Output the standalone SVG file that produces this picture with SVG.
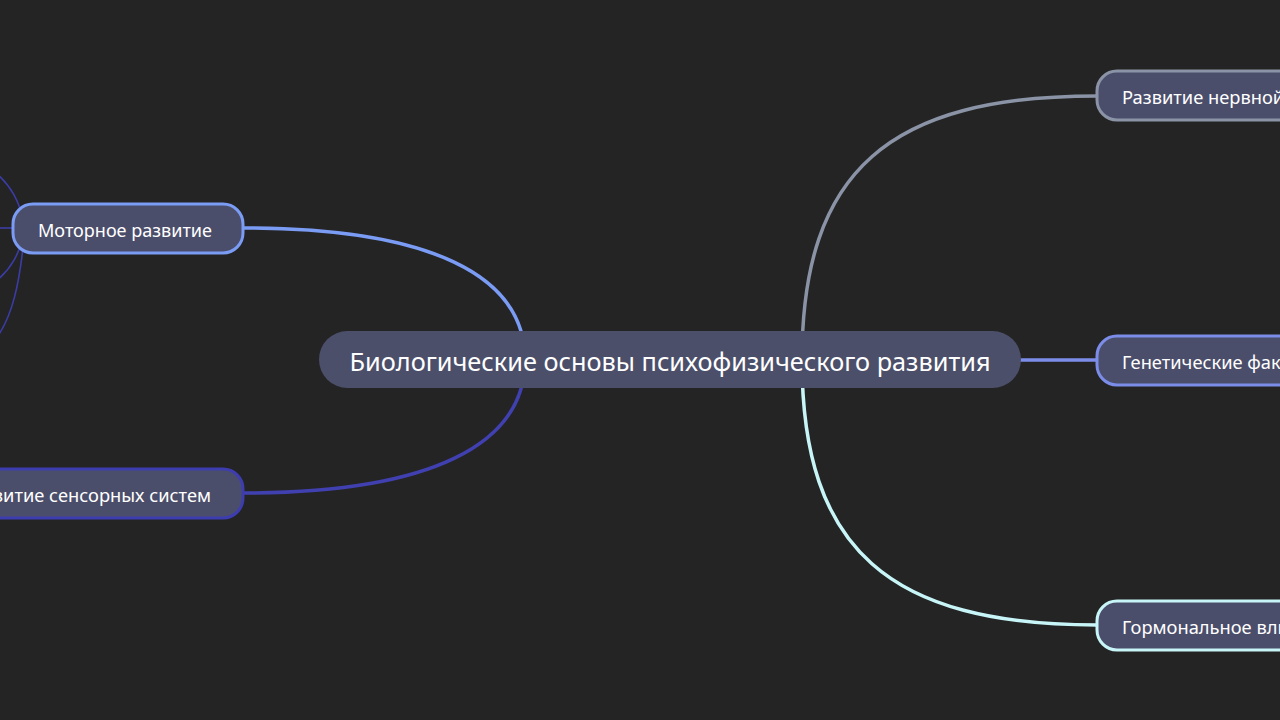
<svg xmlns="http://www.w3.org/2000/svg" width="1280" height="720" viewBox="0 0 1280 720">
<style>
.node{fill:#4b4e6b;stroke-width:3}
.lbl{font-family:"Noto Sans","Open Sans",sans-serif;font-size:18.3px;fill:#ffffff}
.conn{fill:none;stroke-width:3.5}
.thin{fill:none;stroke:#3c3ca6;stroke-width:1.6}
</style>
<rect width="1280" height="720" fill="#242424"/>
<g id="connectors">
<path class="thin" d="M25,228 C20,200 10,185 -5,172"/>
<path class="thin" d="M25,228 H-5"/>
<path class="thin" d="M25,228 C20,255 10,270 -5,282"/>
<path class="thin" d="M25,228 C20,285 12,318 -5,340"/>
<path class="conn" stroke="#7b9cf5" d="M525,360 C525,275 430,228 243,228"/>
<path class="conn" stroke="#4040b0" d="M525,360 C525,445 430,493 243,493"/>
<path class="conn" stroke="#8a94a6" d="M802,360 C802,170 890,96 1097,96"/>
<path class="conn" stroke="#7b8de8" d="M1000,360 H1097"/>
<path class="conn" stroke="#c8f6f8" d="M802,360 C802,550 890,625 1097,625"/>
</g>
<g id="center">
<rect x="319" y="331" width="702" height="57" rx="28.5" fill="#4b4f6a"/>
<text x="670" y="371" text-anchor="middle" font-family="Noto Sans, Open Sans, sans-serif" font-size="25.5" fill="#ffffff" textLength="641" lengthAdjust="spacingAndGlyphs">Биологические основы психофизического развития</text>
</g>
<g id="motor">
<rect class="node" x="13" y="204" width="230" height="49" rx="20" stroke="#7b9cf5"/>
<text class="lbl" x="125" y="237" text-anchor="middle" textLength="174" lengthAdjust="spacingAndGlyphs">Моторное развитие</text>
</g>
<g id="sensory">
<rect class="node" x="-60" y="469" width="303" height="49" rx="20" stroke="#3d3db0"/>
<text class="lbl" x="211" y="502" text-anchor="end">Развитие сенсорных систем</text>
</g>
<g id="nervous">
<rect class="node" x="1097" y="71" width="260" height="49" rx="20" stroke="#8a94a6"/>
<text class="lbl" x="1122" y="104">Развитие нервной системы</text>
</g>
<g id="genetic">
<rect class="node" x="1097" y="336" width="240" height="49" rx="20" stroke="#7b8de8"/>
<text class="lbl" x="1122" y="369">Генетические факторы</text>
</g>
<g id="hormonal">
<rect class="node" x="1097" y="601" width="240" height="49" rx="20" stroke="#c8f6f8"/>
<text class="lbl" x="1122" y="634">Гормональное влияние</text>
</g>
</svg>
